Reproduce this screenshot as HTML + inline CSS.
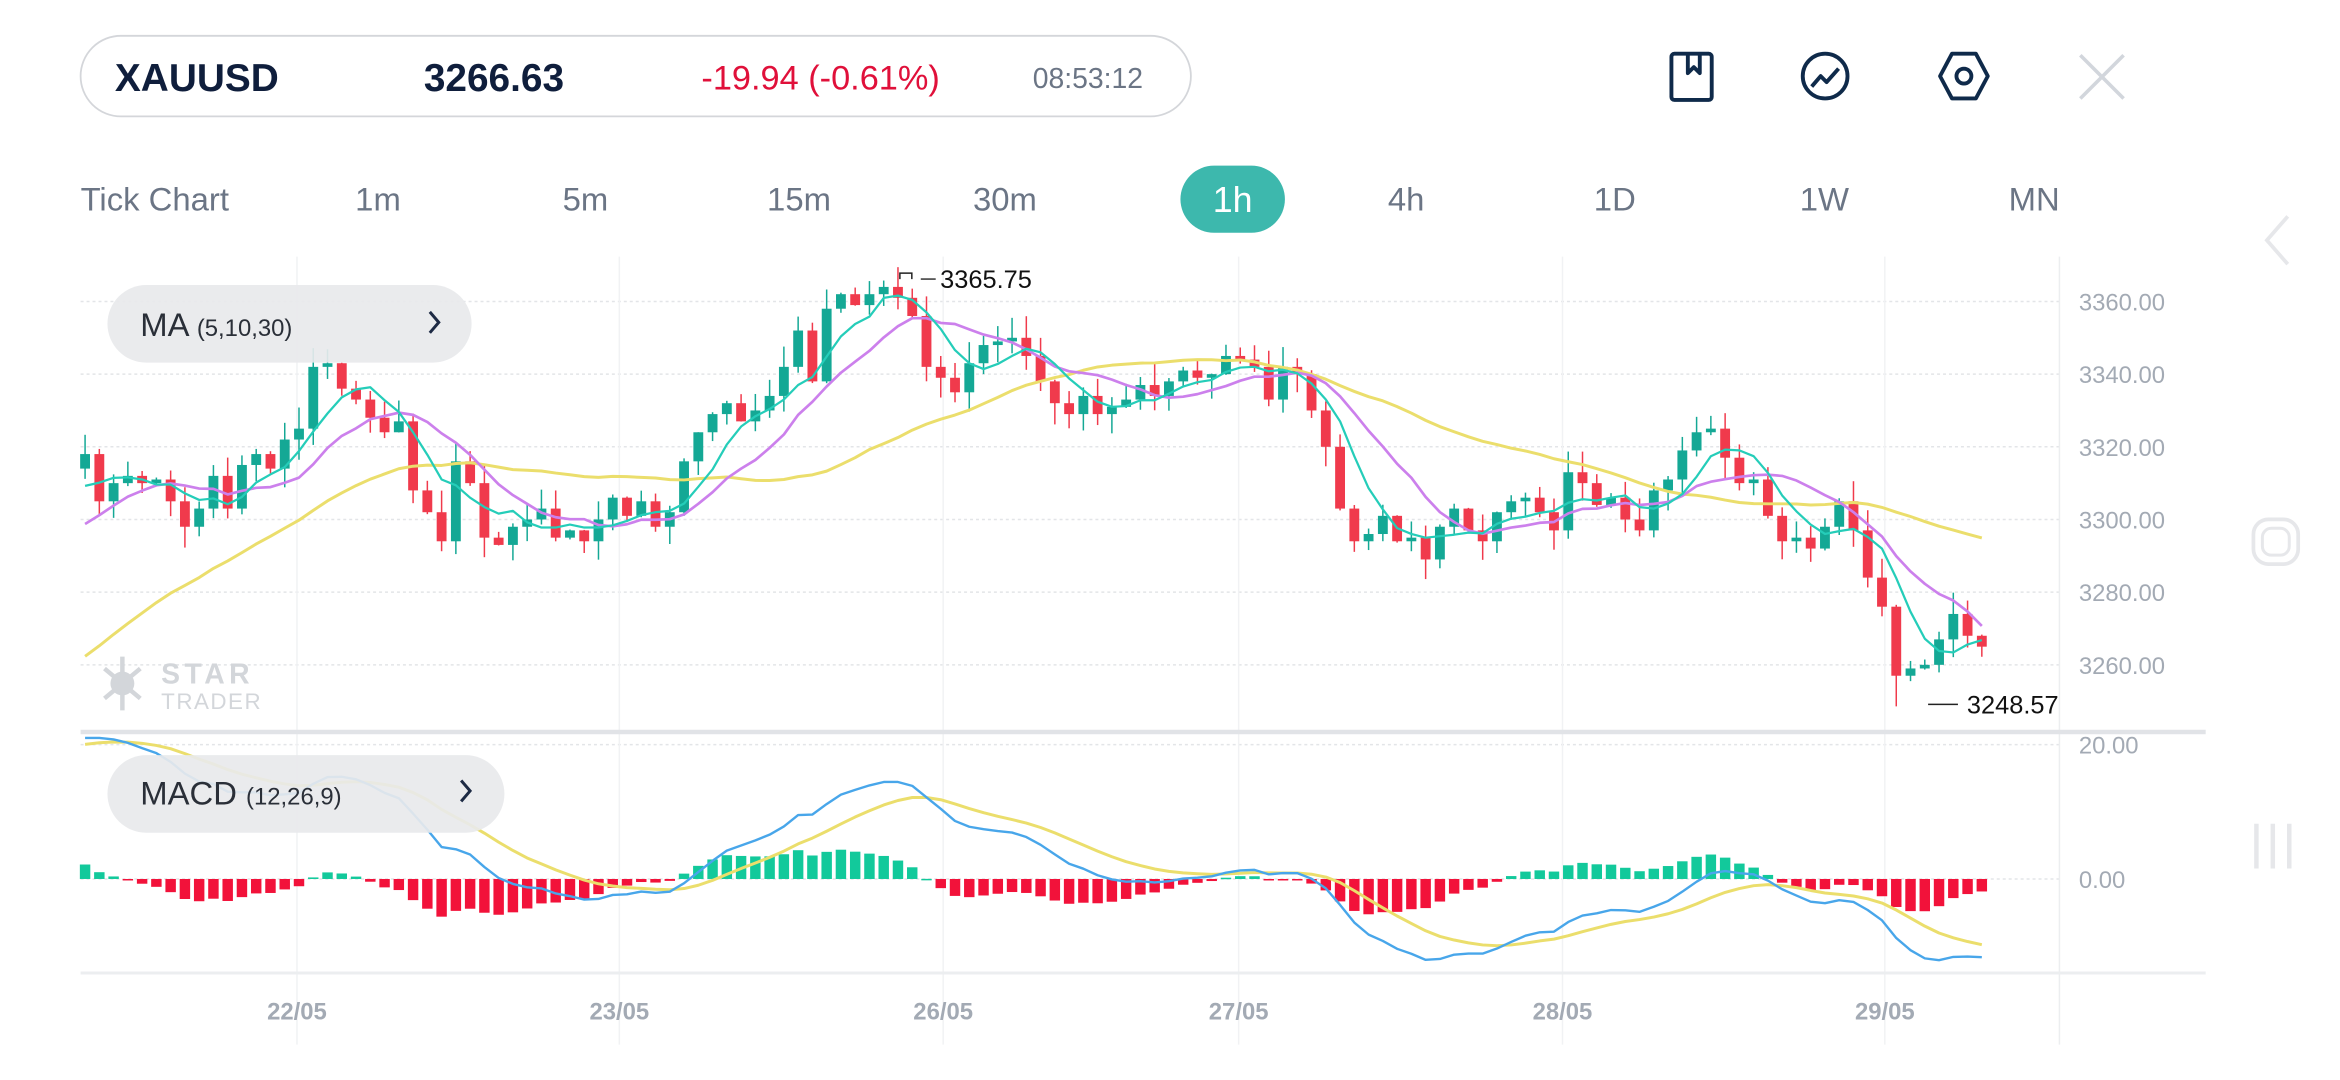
<!DOCTYPE html>
<html><head><meta charset="utf-8">
<style>
html,body{margin:0;padding:0;background:#fff;}
svg{display:block;}
text{font-family:"Liberation Sans",sans-serif;}
</style></head>
<body>
<svg id="s" width="2340" height="1080" viewBox="0 0 1568 723.7" xmlns="http://www.w3.org/2000/svg">
<rect width="1568" height="724" fill="#fff"/>
<rect x="54" y="24" width="744" height="54" rx="27" fill="#fff" stroke="#d4d6da" stroke-width="1.2"/>
<text x="77" y="61" font-size="26" font-weight="bold" fill="#0f1e3c">XAUUSD</text>
<text x="284" y="61" font-size="26" font-weight="bold" fill="#0f1e3c">3266.63</text>
<text x="470" y="60" font-size="23" fill="#e0103a">-19.94 (-0.61%)</text>
<text x="692" y="59" font-size="19" fill="#6b7585">08:53:12</text>
<g fill="none" stroke="#0f2a4a" stroke-width="2.6" stroke-linejoin="round">
<rect x="1120" y="36" width="27" height="31" rx="2"/>
<path d="M1131 37 v12 l4 -4 l4 4 v-12"/>
<circle cx="1223" cy="51" r="15"/>
<path d="M1214 58 l6 -7 l4 4 l8 -9"/>
<path d="M1308 36 h16 l8 15 l-8 15 h-16 l-8 -15z"/>
<circle cx="1316" cy="51" r="5"/>
</g>
<path d="M1394 37 l29 29 M1423 37 l-29 29" stroke="#d2d6dc" stroke-width="2.4"/>
<g font-size="22" fill="#6b7585">
<text x="54" y="141">Tick Chart</text>
<text x="238" y="141">1m</text>
<text x="377" y="141">5m</text>
<text x="514" y="141">15m</text>
<text x="652" y="141">30m</text>
<text x="930" y="141">4h</text>
<text x="1068" y="141">1D</text>
<text x="1206" y="141">1W</text>
<text x="1346" y="141">MN</text>
</g>
<rect x="791" y="111" width="70" height="45" rx="22.5" fill="#3db8ad"/>
<text x="826" y="142" font-size="24" fill="#fff" text-anchor="middle">1h</text>
<path d="M1533 145 l-14 16 l14 16" fill="none" stroke="#e6e7ea" stroke-width="2.5"/>
<rect x="1510" y="348" width="30" height="30" rx="10" fill="none" stroke="#e6e7ea" stroke-width="2.5"/>
<rect x="1516" y="354" width="18" height="18" rx="6" fill="none" stroke="#e6e7ea" stroke-width="2"/>
<path d="M1512 552 v30 M1523 552 v30 M1534 552 v30" stroke="#e6e7ea" stroke-width="3"/>
<g id="grid"></g>
<g id="chart"></g>
<g fill="#d3d6da">
<circle cx="82" cy="458" r="8"/>
<path d="M82 440 v36 M70 448 l24 20 M94 448 l-24 20" stroke="#d3d6da" stroke-width="3"/>
<text x="108" y="458" font-size="19" font-weight="bold" letter-spacing="3">STAR</text>
<text x="108" y="475" font-size="15" letter-spacing="1">TRADER</text>
</g>
<rect x="72" y="191" width="244" height="52" rx="26" fill="#e8e9ec" fill-opacity="0.92"/>
<text x="94" y="225" font-size="22" fill="#2a2f38">MA <tspan font-size="16">(5,10,30)</tspan></text>
<path d="M288 209 l6 7 l-6 7" fill="none" stroke="#1d2a44" stroke-width="2"/>
<rect x="72" y="506" width="266" height="52" rx="26" fill="#e8e9ec" fill-opacity="0.92"/>
<text x="94" y="539" font-size="22" fill="#2a2f38">MACD <tspan font-size="16">(12,26,9)</tspan></text>
<path d="M309 523 l6 7 l-6 7" fill="none" stroke="#1d2a44" stroke-width="2"/>
</svg>
<script>
const NS="http://www.w3.org/2000/svg";
function el(p,t,a){const e=document.createElementNS(NS,t);for(const k in a)e.setAttribute(k,a[k]);p.appendChild(e);return e;}
const G=document.getElementById('grid'),C=document.getElementById('chart');
const yP=p=>202+(3360-p)*2.435;
const yM=v=>589-v*4.5;
[3360,3340,3320,3300,3280,3260].forEach(p=>{el(G,'line',{x1:54,x2:1380,y1:yP(p),y2:yP(p),stroke:'#e3e5e8','stroke-dasharray':'2 2'});
 const t=el(G,'text',{x:1393,y:yP(p)+6,'font-size':16,fill:'#a3aab4'});t.textContent=p.toFixed(2);});
el(G,'line',{x1:54,x2:1380,y1:yM(20),y2:yM(20),stroke:'#e3e5e8','stroke-dasharray':'2 2'});
el(G,'line',{x1:54,x2:1380,y1:589,y2:589,stroke:'#e3e5e8','stroke-dasharray':'2 2'});
[['20.00',yM(20)],['0.00',589]].forEach(a=>{const t=el(G,'text',{x:1393,y:a[1]+6,'font-size':16,fill:'#a3aab4'});t.textContent=a[0];});
[[199,'22/05'],[415,'23/05'],[632,'26/05'],[830,'27/05'],[1047,'28/05'],[1263,'29/05']].forEach(a=>{
 el(G,'line',{x1:a[0],x2:a[0],y1:172,y2:700,stroke:'#f1f2f4'});
 const t=el(G,'text',{x:a[0],y:683,'font-size':16,fill:'#a3aab4','text-anchor':'middle','font-weight':'bold'});t.textContent=a[1];});
el(G,'line',{x1:1380,x2:1380,y1:172,y2:700,stroke:'#eceef0'});
el(G,'rect',{x:54,y:489,width:1424,height:3,fill:'#e1e3e7'});
el(G,'rect',{x:54,y:651,width:1424,height:2,fill:'#eceef0'});
const K=[3318,3305,3310,3312,3310,3311,3305,3298,3303,3312,3303,3315,3318,3314,3322,3325,3342,3343,3336,3333,3328,3324,3327,3308,3302,3294,3316,3310,3295,3293,3298,3300,3303,3295,3297,3294,3300,3306,3301,3305,3298,3302,3316,3324,3329,3332,3327,3330,3334,3342,3352,3338,3358,3362,3359,3362,3364,3361,3356,3342,3339,3335,3343,3348,3349,3350,3345,3338,3332,3329,3334,3329,3331,3333,3337,3334,3338,3341,3339,3340,3345,3344,3342,3333,3342,3340,3330,3320,3303,3294,3296,3301,3294,3295,3289,3298,3303,3297,3294,3302,3305,3306,3302,3297,3313,3310,3304,3306,3300,3297,3308,3311,3319,3324,3325,3317,3310,3311,3301,3294,3295,3292,3298,3305,3297,3284,3276,3257,3259,3260,3267,3274,3268,3265];
const n=K.length, x0=57, dx=(1328-x0)/(n-1);
let seed=7;const rnd=()=>{seed=(seed*9301+49297)%233280;return seed/233280;};
const pre=[];for(let i=0;i<45;i++){const t=i/44;pre.push(3192+Math.pow(t,1.6)*122+(rnd()-0.5)*4);}
const all=pre.concat(K);const P=pre.length;
function sma(k,i){let s=0;for(let j=i-k+1;j<=i;j++)s+=all[j];return s/k;}
function ema(arr,k){const a=2/(k+1);const o=[arr[0]];for(let i=1;i<arr.length;i++)o.push(arr[i]*a+o[i-1]*(1-a));return o;}
const e12=ema(all,12),e26=ema(all,26);const macd=all.map((v,i)=>e12[i]-e26[i]);const sig=ema(macd,9);
let prev=3314;
for(let i=0;i<n;i++){
 const x=x0+i*dx,o=prev,c=K[i];const up=c>=o;
 let h=Math.max(o,c)+rnd()*6,l=Math.min(o,c)-rnd()*6;
 if(i==56)h=3365.75; if(i==n-7)l=3248.57;
 const col=up?'#14a895':'#f03a4c';
 el(C,'line',{x1:x,x2:x,y1:yP(h),y2:yP(l),stroke:col,'stroke-width':1});
 const y1=yP(Math.max(o,c)),y2=yP(Math.min(o,c));
 el(C,'rect',{x:x-3.3,y:y1,width:6.6,height:Math.max(1.2,y2-y1),fill:col});
 prev=c;
}
function line(fn,col,w,yf){let d='';for(let i=0;i<n;i++){const x=x0+i*dx;d+=(i?'L':'M')+x.toFixed(1)+' '+yf(fn(i+P)).toFixed(1);}el(C,'path',{d,fill:'none',stroke:col,'stroke-width':w,'stroke-linejoin':'round'});}
line(i=>sma(30,i),'#ebde6c',2,yP);
line(i=>sma(10,i),'#cc80ec',1.8,yP);
line(i=>sma(5,i),'#25cdb9',1.5,yP);
for(let i=0;i<n;i++){const x=x0+i*dx,v=macd[i+P]-sig[i+P];const y=yM(v);
 el(C,'rect',{x:x-3.5,y:Math.min(y,589),width:7,height:Math.max(1,Math.abs(y-589)),fill:v>=0?'#12c99b':'#f2123a'});}
line(i=>Math.max(-14,Math.min(21,sig[i])),'#ebde6c',2,yM);
line(i=>Math.max(-14,Math.min(21,macd[i])),'#48a6ea',1.6,yM);
el(C,'path',{d:'M603 187 v-4 h8 v4 M617 187 h10',fill:'none',stroke:'#222','stroke-width':1});
let t=el(C,'text',{x:630,y:193,'font-size':17,fill:'#111'});t.textContent='3365.75';
el(C,'path',{d:'M1292 472 h20',fill:'none',stroke:'#222','stroke-width':1});
const cp=el(C,'clipPath',{id:'cp'});el(cp,'rect',{x:0,y:0,width:1380,height:700});
t=el(C,'text',{x:1318,y:478,'font-size':17,fill:'#111','clip-path':'url(#cp)'});t.textContent='3248.57';
</script>
</body></html>
